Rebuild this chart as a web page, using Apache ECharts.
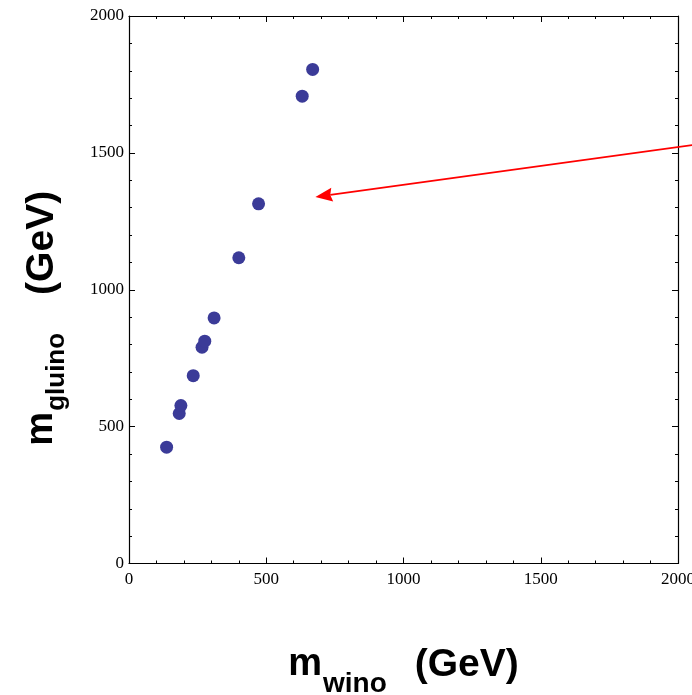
<!DOCTYPE html>
<html>
<head>
<meta charset="utf-8">
<script src="https://cdn.jsdelivr.net/npm/echarts@6/dist/echarts.min.js"></script>
<style>
html,body{margin:0;padding:0;background:#fff;}
#c{width:692px;height:695px;}
</style>
</head>
<body>
<div id="c"></div>
<script>
// data
const mWino   = [137, 183, 189, 234, 266, 276, 310, 400, 472, 631, 669];
const mGluino = [425, 548, 577, 686, 790, 812, 897, 1117, 1314, 1707, 1805];
const xTicks = [0, 500, 1000, 1500, 2000];
const yTicks = [0, 500, 1000, 1500, 2000];
// annotation arrow (data coords): tip, tail
const arrowTip  = [679, 1339];
const arrowTail = [2120, 1538];

const points = mWino.map((x, i) => [x, mGluino[i]]);

const chart = echarts.init(document.getElementById('c'), null, {renderer: 'canvas'});
const serif = '"Liberation Serif","Times New Roman",serif';
const sans = '"Liberation Sans",Arial,Helvetica,sans-serif';
function common() {
  return {
    axisLine: {show: true, onZero: false, lineStyle: {color: '#000', width: 1.2}},
    axisTick: {show: true, inside: true, length: 6, lineStyle: {color: '#000', width: 1}},
    minorTick: {show: true, splitNumber: 5, length: 3, lineStyle: {color: '#000', width: 1}},
    splitLine: {show: false},
    minorSplitLine: {show: false}
  };
}
chart.setOption({
  animation: false,
  backgroundColor: '#fff',
  grid: {left: 129, right: 14, top: 16, bottom: 131.5, containLabel: false, outerBoundsMode: 'none'},
  xAxis: [
    Object.assign(common(), {
      type: 'value', min: xTicks[0], max: xTicks[xTicks.length - 1], interval: 500,
      position: 'bottom',
      axisLabel: {show: true, margin: 8, fontFamily: serif, fontSize: 17, color: '#000',
        formatter: v => xTicks.includes(v) ? String(v) : ''},
      name: '{m|m}{s|wino}{g|(GeV)}',
      nameLocation: 'middle', nameGap: 68.5,
      nameTextStyle: {
        rich: {
          m: {fontFamily: sans, fontWeight: 'bold', fontSize: 38, color: '#000', lineHeight: 66, verticalAlign: 'middle'},
          s: {fontFamily: sans, fontWeight: 'bold', fontSize: 28, color: '#000', lineHeight: 34, verticalAlign: 'bottom', padding: [0, 0, 0, 1]},
          g: {fontFamily: sans, fontWeight: 'bold', fontSize: 39, color: '#000', lineHeight: 66, verticalAlign: 'middle', padding: [0, 0, 0, 28]}
        }
      }
    }),
    Object.assign(common(), {
      type: 'value', min: xTicks[0], max: xTicks[xTicks.length - 1], interval: 500,
      position: 'top', axisLabel: {show: false}
    })
  ],
  yAxis: [
    Object.assign(common(), {
      type: 'value', min: yTicks[0], max: yTicks[yTicks.length - 1], interval: 500,
      position: 'left',
      axisLabel: {show: true, margin: 5, fontFamily: serif, fontSize: 17, color: '#000',
        formatter: v => yTicks.includes(v) ? String(v) : ''},
      name: '{m|m}{s|gluino}{g|(GeV)}',
      nameLocation: 'middle', nameGap: 59, nameRotate: 90,
      nameTextStyle: {
        padding: [0, 57, 0, 0],
        rich: {
          m: {fontFamily: sans, fontWeight: 'bold', fontSize: 38, color: '#000', lineHeight: 56, verticalAlign: 'middle'},
          s: {fontFamily: sans, fontWeight: 'bold', fontSize: 26, color: '#000', lineHeight: 40, verticalAlign: 'bottom', padding: [0, 0, 0, 1]},
          g: {fontFamily: sans, fontWeight: 'bold', fontSize: 39, color: '#000', lineHeight: 56, verticalAlign: 'middle', padding: [0, 0, 0, 38]}
        }
      }
    }),
    Object.assign(common(), {
      type: 'value', min: yTicks[0], max: yTicks[yTicks.length - 1], interval: 500,
      position: 'right', axisLabel: {show: false}
    })
  ],
  series: [{
    type: 'scatter',
    data: points,
    symbol: 'circle',
    symbolSize: 13,
    clip: false,
    itemStyle: {color: '#3b3b98', opacity: 1},
    silent: true
  }]
});

// annotation arrow placed through the chart's own coordinate conversion
const tip = chart.convertToPixel({gridIndex: 0}, arrowTip);
const tail = chart.convertToPixel({gridIndex: 0}, arrowTail);
const dx = tail[0] - tip[0], dy = tail[1] - tip[1];
const len = Math.sqrt(dx * dx + dy * dy);
const ux = dx / len, uy = dy / len;       // along the line
const px = -uy, py = ux;                  // perpendicular
const headLen = 17, headHalf = 7;
const base = [tip[0] + ux * headLen, tip[1] + uy * headLen];
const notch = [tip[0] + ux * (headLen - 2), tip[1] + uy * (headLen - 2)];
chart.setOption({
  graphic: [
    {
      type: 'line', silent: true, z: 100,
      shape: {x1: notch[0], y1: notch[1], x2: tail[0], y2: tail[1]},
      style: {stroke: '#ff0000', lineWidth: 1.8}
    },
    {
      type: 'polygon', silent: true, z: 101,
      shape: {points: [tip, [base[0] + px * headHalf, base[1] + py * headHalf], notch, [base[0] - px * headHalf, base[1] - py * headHalf]]},
      style: {fill: '#ff0000', stroke: null}
    }
  ]
});
</script>
</body>
</html>
